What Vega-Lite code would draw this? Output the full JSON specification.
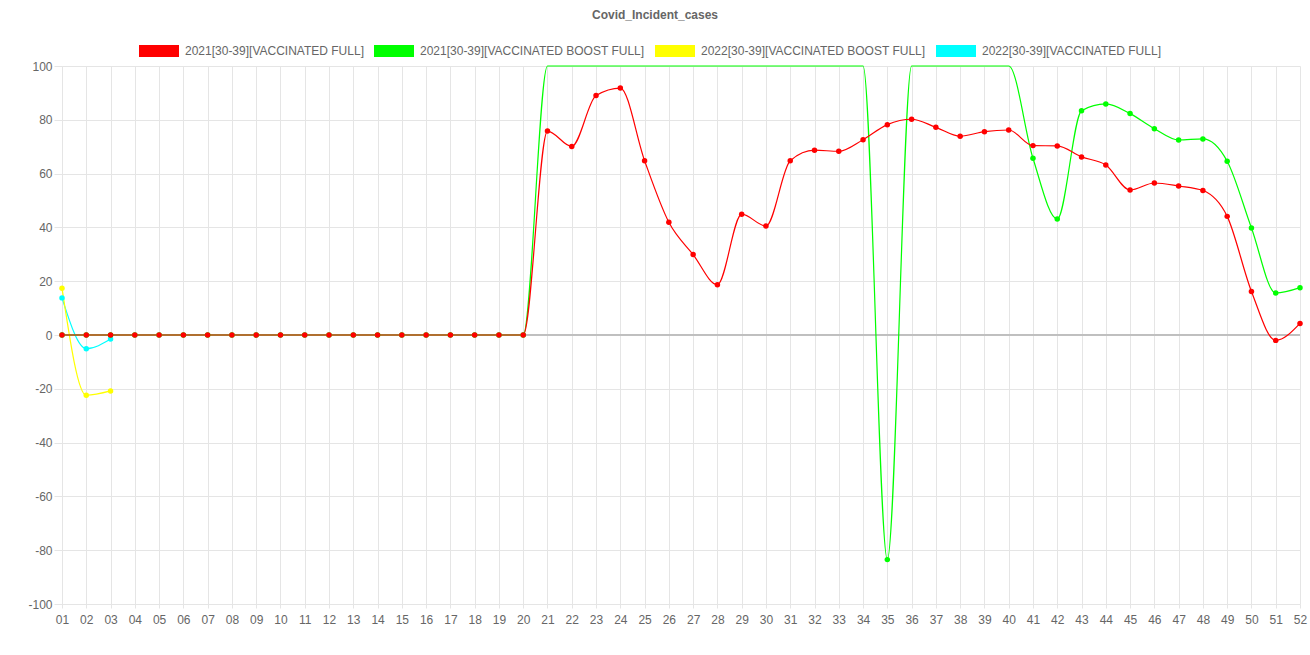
{
  "$schema": "https://vega.github.io/schema/vega-lite/v6.json",
  "width": 1238,
  "height": 538,
  "autosize": {"type": "none"},
  "padding": {"left": 62, "top": 66, "right": 10, "bottom": 51},
  "background": "#ffffff",
  "title": {
    "text": "Covid_Incident_cases",
    "font": "Liberation Sans",
    "fontSize": 12,
    "fontWeight": "bold",
    "color": "#666666",
    "anchor": "middle",
    "dx": -26,
    "offset": 9
  },
  "config": {
    "view": {"stroke": null},
    "font": "Liberation Sans"
  },
  "datasets": {
    "main": [
      {"week": "01", "series": "2022[30-39][VACCINATED FULL]", "value": 13.8},
      {"week": "02", "series": "2022[30-39][VACCINATED FULL]", "value": -5.1},
      {"week": "03", "series": "2022[30-39][VACCINATED FULL]", "value": -1.5},
      {"week": "01", "series": "2022[30-39][VACCINATED BOOST FULL]", "value": 17.4},
      {"week": "02", "series": "2022[30-39][VACCINATED BOOST FULL]", "value": -22.4},
      {"week": "03", "series": "2022[30-39][VACCINATED BOOST FULL]", "value": -20.8},
      {"week": "01", "series": "2021[30-39][VACCINATED BOOST FULL]", "value": 0},
      {"week": "02", "series": "2021[30-39][VACCINATED BOOST FULL]", "value": 0},
      {"week": "03", "series": "2021[30-39][VACCINATED BOOST FULL]", "value": 0},
      {"week": "04", "series": "2021[30-39][VACCINATED BOOST FULL]", "value": 0},
      {"week": "05", "series": "2021[30-39][VACCINATED BOOST FULL]", "value": 0},
      {"week": "06", "series": "2021[30-39][VACCINATED BOOST FULL]", "value": 0},
      {"week": "07", "series": "2021[30-39][VACCINATED BOOST FULL]", "value": 0},
      {"week": "08", "series": "2021[30-39][VACCINATED BOOST FULL]", "value": 0},
      {"week": "09", "series": "2021[30-39][VACCINATED BOOST FULL]", "value": 0},
      {"week": "10", "series": "2021[30-39][VACCINATED BOOST FULL]", "value": 0},
      {"week": "11", "series": "2021[30-39][VACCINATED BOOST FULL]", "value": 0},
      {"week": "12", "series": "2021[30-39][VACCINATED BOOST FULL]", "value": 0},
      {"week": "13", "series": "2021[30-39][VACCINATED BOOST FULL]", "value": 0},
      {"week": "14", "series": "2021[30-39][VACCINATED BOOST FULL]", "value": 0},
      {"week": "15", "series": "2021[30-39][VACCINATED BOOST FULL]", "value": 0},
      {"week": "16", "series": "2021[30-39][VACCINATED BOOST FULL]", "value": 0},
      {"week": "17", "series": "2021[30-39][VACCINATED BOOST FULL]", "value": 0},
      {"week": "18", "series": "2021[30-39][VACCINATED BOOST FULL]", "value": 0},
      {"week": "19", "series": "2021[30-39][VACCINATED BOOST FULL]", "value": 0},
      {"week": "20", "series": "2021[30-39][VACCINATED BOOST FULL]", "value": 0},
      {"week": "21", "series": "2021[30-39][VACCINATED BOOST FULL]", "value": 120},
      {"week": "22", "series": "2021[30-39][VACCINATED BOOST FULL]", "value": 120},
      {"week": "23", "series": "2021[30-39][VACCINATED BOOST FULL]", "value": 120},
      {"week": "24", "series": "2021[30-39][VACCINATED BOOST FULL]", "value": 120},
      {"week": "25", "series": "2021[30-39][VACCINATED BOOST FULL]", "value": 120},
      {"week": "26", "series": "2021[30-39][VACCINATED BOOST FULL]", "value": 120},
      {"week": "27", "series": "2021[30-39][VACCINATED BOOST FULL]", "value": 120},
      {"week": "28", "series": "2021[30-39][VACCINATED BOOST FULL]", "value": 120},
      {"week": "29", "series": "2021[30-39][VACCINATED BOOST FULL]", "value": 120},
      {"week": "30", "series": "2021[30-39][VACCINATED BOOST FULL]", "value": 120},
      {"week": "31", "series": "2021[30-39][VACCINATED BOOST FULL]", "value": 120},
      {"week": "32", "series": "2021[30-39][VACCINATED BOOST FULL]", "value": 120},
      {"week": "33", "series": "2021[30-39][VACCINATED BOOST FULL]", "value": 120},
      {"week": "34", "series": "2021[30-39][VACCINATED BOOST FULL]", "value": 120},
      {"week": "35", "series": "2021[30-39][VACCINATED BOOST FULL]", "value": -83.5},
      {"week": "36", "series": "2021[30-39][VACCINATED BOOST FULL]", "value": 120},
      {"week": "37", "series": "2021[30-39][VACCINATED BOOST FULL]", "value": 120},
      {"week": "38", "series": "2021[30-39][VACCINATED BOOST FULL]", "value": 120},
      {"week": "39", "series": "2021[30-39][VACCINATED BOOST FULL]", "value": 120},
      {"week": "40", "series": "2021[30-39][VACCINATED BOOST FULL]", "value": 120},
      {"week": "41", "series": "2021[30-39][VACCINATED BOOST FULL]", "value": 65.7},
      {"week": "42", "series": "2021[30-39][VACCINATED BOOST FULL]", "value": 43.1},
      {"week": "43", "series": "2021[30-39][VACCINATED BOOST FULL]", "value": 83.4},
      {"week": "44", "series": "2021[30-39][VACCINATED BOOST FULL]", "value": 85.9},
      {"week": "45", "series": "2021[30-39][VACCINATED BOOST FULL]", "value": 82.3},
      {"week": "46", "series": "2021[30-39][VACCINATED BOOST FULL]", "value": 76.7},
      {"week": "47", "series": "2021[30-39][VACCINATED BOOST FULL]", "value": 72.5},
      {"week": "48", "series": "2021[30-39][VACCINATED BOOST FULL]", "value": 72.9},
      {"week": "49", "series": "2021[30-39][VACCINATED BOOST FULL]", "value": 64.6},
      {"week": "50", "series": "2021[30-39][VACCINATED BOOST FULL]", "value": 39.8},
      {"week": "51", "series": "2021[30-39][VACCINATED BOOST FULL]", "value": 15.6},
      {"week": "52", "series": "2021[30-39][VACCINATED BOOST FULL]", "value": 17.6},
      {"week": "01", "series": "2021[30-39][VACCINATED FULL]", "value": 0},
      {"week": "02", "series": "2021[30-39][VACCINATED FULL]", "value": 0},
      {"week": "03", "series": "2021[30-39][VACCINATED FULL]", "value": 0},
      {"week": "04", "series": "2021[30-39][VACCINATED FULL]", "value": 0},
      {"week": "05", "series": "2021[30-39][VACCINATED FULL]", "value": 0},
      {"week": "06", "series": "2021[30-39][VACCINATED FULL]", "value": 0},
      {"week": "07", "series": "2021[30-39][VACCINATED FULL]", "value": 0},
      {"week": "08", "series": "2021[30-39][VACCINATED FULL]", "value": 0},
      {"week": "09", "series": "2021[30-39][VACCINATED FULL]", "value": 0},
      {"week": "10", "series": "2021[30-39][VACCINATED FULL]", "value": 0},
      {"week": "11", "series": "2021[30-39][VACCINATED FULL]", "value": 0},
      {"week": "12", "series": "2021[30-39][VACCINATED FULL]", "value": 0},
      {"week": "13", "series": "2021[30-39][VACCINATED FULL]", "value": 0},
      {"week": "14", "series": "2021[30-39][VACCINATED FULL]", "value": 0},
      {"week": "15", "series": "2021[30-39][VACCINATED FULL]", "value": 0},
      {"week": "16", "series": "2021[30-39][VACCINATED FULL]", "value": 0},
      {"week": "17", "series": "2021[30-39][VACCINATED FULL]", "value": 0},
      {"week": "18", "series": "2021[30-39][VACCINATED FULL]", "value": 0},
      {"week": "19", "series": "2021[30-39][VACCINATED FULL]", "value": 0},
      {"week": "20", "series": "2021[30-39][VACCINATED FULL]", "value": 0},
      {"week": "21", "series": "2021[30-39][VACCINATED FULL]", "value": 75.8},
      {"week": "22", "series": "2021[30-39][VACCINATED FULL]", "value": 70.1},
      {"week": "23", "series": "2021[30-39][VACCINATED FULL]", "value": 89.0},
      {"week": "24", "series": "2021[30-39][VACCINATED FULL]", "value": 91.8},
      {"week": "25", "series": "2021[30-39][VACCINATED FULL]", "value": 64.8},
      {"week": "26", "series": "2021[30-39][VACCINATED FULL]", "value": 41.9},
      {"week": "27", "series": "2021[30-39][VACCINATED FULL]", "value": 29.9},
      {"week": "28", "series": "2021[30-39][VACCINATED FULL]", "value": 18.7},
      {"week": "29", "series": "2021[30-39][VACCINATED FULL]", "value": 44.9},
      {"week": "30", "series": "2021[30-39][VACCINATED FULL]", "value": 40.5},
      {"week": "31", "series": "2021[30-39][VACCINATED FULL]", "value": 64.8},
      {"week": "32", "series": "2021[30-39][VACCINATED FULL]", "value": 68.7},
      {"week": "33", "series": "2021[30-39][VACCINATED FULL]", "value": 68.3},
      {"week": "34", "series": "2021[30-39][VACCINATED FULL]", "value": 72.6},
      {"week": "35", "series": "2021[30-39][VACCINATED FULL]", "value": 78.2},
      {"week": "36", "series": "2021[30-39][VACCINATED FULL]", "value": 80.2},
      {"week": "37", "series": "2021[30-39][VACCINATED FULL]", "value": 77.2},
      {"week": "38", "series": "2021[30-39][VACCINATED FULL]", "value": 73.9},
      {"week": "39", "series": "2021[30-39][VACCINATED FULL]", "value": 75.6},
      {"week": "40", "series": "2021[30-39][VACCINATED FULL]", "value": 76.2},
      {"week": "41", "series": "2021[30-39][VACCINATED FULL]", "value": 70.4},
      {"week": "42", "series": "2021[30-39][VACCINATED FULL]", "value": 70.3},
      {"week": "43", "series": "2021[30-39][VACCINATED FULL]", "value": 66.2},
      {"week": "44", "series": "2021[30-39][VACCINATED FULL]", "value": 63.2},
      {"week": "45", "series": "2021[30-39][VACCINATED FULL]", "value": 53.9},
      {"week": "46", "series": "2021[30-39][VACCINATED FULL]", "value": 56.5},
      {"week": "47", "series": "2021[30-39][VACCINATED FULL]", "value": 55.4},
      {"week": "48", "series": "2021[30-39][VACCINATED FULL]", "value": 53.7},
      {"week": "49", "series": "2021[30-39][VACCINATED FULL]", "value": 44.1},
      {"week": "50", "series": "2021[30-39][VACCINATED FULL]", "value": 16.2},
      {"week": "51", "series": "2021[30-39][VACCINATED FULL]", "value": -2.0},
      {"week": "52", "series": "2021[30-39][VACCINATED FULL]", "value": 4.3}
    ]
  },
  "data": {"name": "main"},
  "encoding": {
    "x": {
      "field": "week",
      "type": "ordinal",
      "scale": {"type": "point", "padding": 0},
      "axis": {
        "title": null,
        "labelAngle": 0,
        "labelFont": "Liberation Sans",
        "labelFontSize": 12,
        "labelColor": "#666666",
        "labelPadding": 6,
        "tickSize": 4,
        "tickColor": "#e5e5e5",
        "domain": false,
        "grid": true,
        "gridColor": "#e5e5e5",
        "gridWidth": 1
      }
    },
    "y": {
      "field": "value",
      "type": "quantitative",
      "scale": {"domain": [-100, 100], "nice": false, "clamp": true, "zero": false},
      "axis": {
        "title": null,
        "values": [-100, -80, -60, -40, -20, 0, 20, 40, 60, 80, 100],
        "labelExpr": "'' + datum.value",
        "labelFont": "Liberation Sans",
        "labelFontSize": 12,
        "labelColor": "#666666",
        "labelPadding": 2,
        "tickSize": 8,
        "tickColor": "#e5e5e5",
        "domain": true,
        "domainColor": "#e5e5e5",
        "grid": true,
        "gridColor": "#e5e5e5",
        "gridWidth": 1
      }
    },
    "color": {
      "field": "series",
      "type": "nominal",
      "scale": {
        "domain": [
          "2021[30-39][VACCINATED FULL]",
          "2021[30-39][VACCINATED BOOST FULL]",
          "2022[30-39][VACCINATED BOOST FULL]",
          "2022[30-39][VACCINATED FULL]"
        ],
        "range": ["#ff0000", "#00ff00", "#ffff00", "#00ffff"]
      },
      "legend": {
        "title": null,
        "orient": "none",
        "legendX": 77,
        "legendY": -35,
        "direction": "horizontal",
        "symbolType": "M-1,-0.3H1V0.3H-1Z",
        "symbolSize": 1600,
        "symbolStrokeWidth": 0,
        "symbolOpacity": 1,
        "labelFont": "Liberation Sans",
        "labelFontSize": 12,
        "labelColor": "#666666",
        "labelOffset": 6,
        "columnPadding": 10,
        "labelLimit": 400
      }
    }
  },
  "layer": [
    {
      "mark": {"type": "rule", "stroke": "#bfbfbf", "strokeWidth": 1},
      "encoding": {"y": {"datum": 0}, "x": null, "color": null}
    },
    {
      "mark": {"type": "line", "interpolate": "monotone", "strokeWidth": 1.2}
    },
    {
      "transform": [{"filter": "datum.value <= 100"}],
      "mark": {"type": "point", "filled": true, "opacity": 1, "size": 30, "shape": "circle"}
    }
  ]
}
